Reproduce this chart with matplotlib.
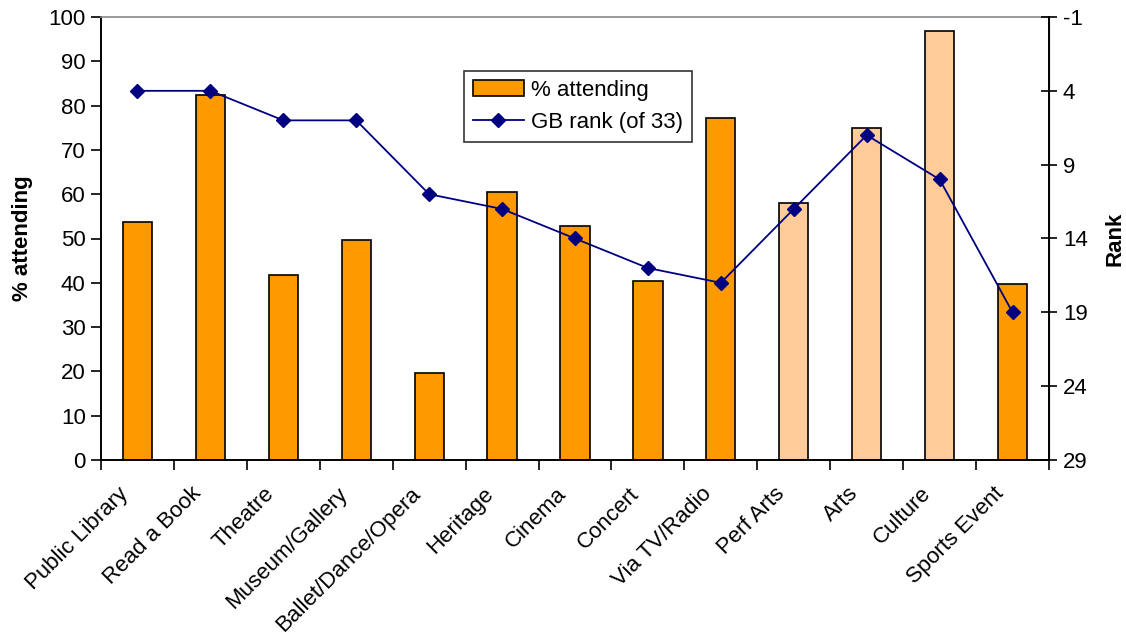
import numpy as np
import matplotlib.pyplot as plt
import matplotlib.transforms as mtrans

plt.rcParams['font.family'] = ['Liberation Sans', 'DejaVu Sans']

# data
categories = ['Public Library', 'Read a Book', 'Theatre', 'Museum/Gallery',
              'Ballet/Dance/Opera', 'Heritage', 'Cinema', 'Concert',
              'Via TV/Radio', 'Perf Arts', 'Arts', 'Culture', 'Sports Event']
attending = [53.7, 82.4, 41.8, 49.7, 19.6, 60.5, 52.8, 40.4, 77.2, 58.0, 74.9, 96.8, 39.7]
gb_rank = [4, 4, 6, 6, 11, 12, 14, 16, 17, 12, 7, 10, 19]
light = [False] * 9 + [True, True, True, False]
rank_ticks = [-1, 4, 9, 14, 19, 24, 29]

orange = '#FF9900'
peach = '#FFCC99'
navy = '#000080'
fs = 16

fig = plt.figure(figsize=(11.26, 6.41), dpi=100)
ax = fig.add_axes([101/1126, 1 - 460/641, 948/1126, 443/641])
x = np.arange(len(categories))
cols = [peach if l else orange for l in light]
bars = ax.bar(x, attending, width=0.4, color=cols, edgecolor='black', linewidth=1.2,
              label='% attending', zorder=2)
ax.set_xlim(-0.5, len(categories) - 0.5)
ax.set_ylim(0, 100)
ax.set_yticks(range(0, 101, 10))
ax.set_xticks(x)
ax.set_xticklabels(categories, rotation=45, ha='right', va='center',
                   rotation_mode='anchor', fontsize=fs)
ax.tick_params(axis='x', length=0, pad=22)
# nudge labels a bit left so their ends sit just left of the bar centre
shift = mtrans.ScaledTranslation(-12/100, 0, fig.dpi_scale_trans)
for lab in ax.get_xticklabels():
    lab.set_transform(lab.get_transform() + shift)
ax.set_xticks(np.arange(-0.5, len(categories), 1), minor=True)
ax.tick_params(axis='x', which='minor', direction='out', length=7, width=1.2)
ax.tick_params(axis='y', direction='out', length=7, width=1.2, labelsize=fs, pad=4)
ax.set_ylabel('% attending', fontsize=fs, fontweight='bold', labelpad=11)
for s in ['left', 'bottom']:
    ax.spines[s].set_linewidth(1.4)
ax.spines['top'].set_color('#888888')
ax.spines['top'].set_linewidth(1.2)

ax2 = ax.twinx()
line, = ax2.plot(x, gb_rank, color=navy, marker='D', markersize=7.5, linewidth=1.3,
                 label='GB rank (of 33)', zorder=3)
ax2.set_ylim(29, -1)
ax2.set_yticks(rank_ticks)
ax2.set_yticklabels([str(t) for t in rank_ticks])
ax2.tick_params(axis='y', direction='inout', length=12, width=1.2, labelsize=fs, pad=4)
ax2.set_ylabel('Rank', fontsize=fs, fontweight='bold', labelpad=12)
ax2.spines['right'].set_linewidth(1.4)
ax2.spines['top'].set_visible(False)
for s in ['left', 'bottom']:
    ax2.spines[s].set_visible(False)

leg = fig.legend([bars, line], ['% attending', 'GB rank (of 33)'],
                 loc='upper left', bbox_to_anchor=(464/1126, 1 - 71/641),
                 fontsize=fs, frameon=True, fancybox=False, borderpad=0.4,
                 handlelength=2.3, labelspacing=0.5, handletextpad=0.3,
                 borderaxespad=0)
leg.get_frame().set_edgecolor('black')
leg.get_frame().set_linewidth(1.2)

fig.savefig('out.png', dpi=100)
